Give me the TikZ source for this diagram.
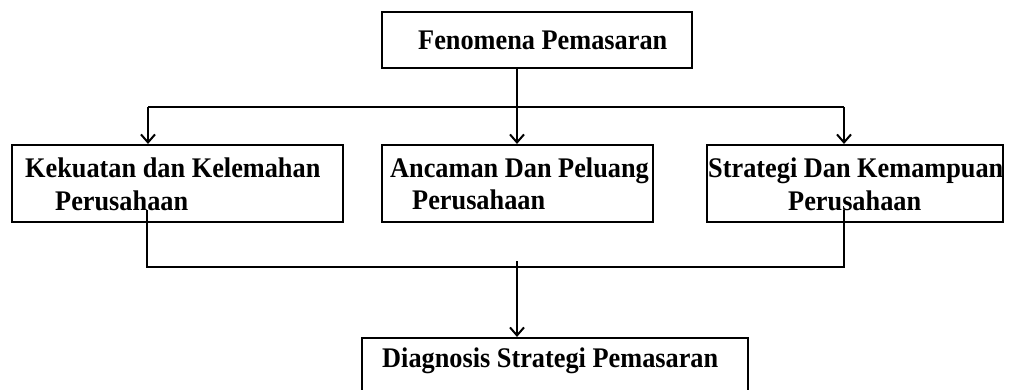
\documentclass[tikz,border=0pt]{standalone}
\usepackage{fontspec}
\usepackage{graphicx}
\setmainfont{Liberation Serif}
\usetikzlibrary{arrows.meta}
% slightly tall lettering
\newcommand{\tallword}[1]{\scalebox{1}[1.08]{#1}}
\begin{document}
\begin{tikzpicture}[x=1pt,y=-1pt,
  box/.style={draw, line width=2.1pt, inner sep=0pt, minimum height=77pt},
  txt/.style={anchor=base west, inner sep=0pt, font=\fontsize{26.3}{31}\selectfont\bfseries},
  link/.style={line width=1.9pt},
  flow/.style={link, -{Straight Barb[length=8pt,width=14pt,line width=2pt]}}]
  \clip (0,0) rectangle (1019,390);

  % boxes
  \node[box, minimum width=310pt, minimum height=56pt] (fen) at (537,40) {};
  \node[box, minimum width=331pt] (kk) at (177.5,183.5) {};
  \node[box, minimum width=271pt] (ac) at (517.5,183.5) {};
  \node[box, minimum width=296pt] (sk) at (855,183.5) {};
  \node[box, minimum width=386pt, minimum height=62pt] (dg) at (555,369) {};

  % labels
  \node[txt] (tfen) at (418,50) {\tallword{Fenomena Pemasaran}};
  \node[txt] (tkk1) at (25,178) {\tallword{Kekuatan dan Kelemahan}};
  \node[txt] (tkk2) at (55,210) {\tallword{Perusahaan}};
  \node[txt] (tac1) at (390,178) {\tallword{Ancaman Dan Peluang}};
  \node[txt] (tac2) at (412,209) {\tallword{Perusahaan}};
  \node[txt] (tsk1) at (708,178) {\tallword{Strategi Dan Kemampuan}};
  \node[txt] (tsk2) at (788,210) {\tallword{Perusahaan}};
  \node[txt] (tdg) at (382,367) {\tallword{Diagnosis Strategi Pemasaran}};

  % branching from the top
  \coordinate (hub) at (517,107);
  \coordinate (dropL) at (148,107);
  \coordinate (dropR) at (844,107);
  \draw[link] (hub |- fen.south) -- (hub);
  \draw[link] (dropL) -- (dropR);
  \draw[flow] (dropL) -- (dropL |- kk.north);
  \draw[flow] (hub) -- (hub |- ac.north);
  \draw[flow] (dropR) -- (dropR |- sk.north);

  % joining towards the bottom
  \coordinate (tailL) at (147,210);
  \coordinate (tailR) at (844,210);
  \coordinate (joinL) at (147,267);
  \coordinate (joinR) at (844,267);
  \coordinate (stem) at (517,261);
  \draw[link] (tailL) -- (joinL) -- (joinR) -- (tailR);
  \draw[flow] (stem) -- (stem |- dg.north);
\end{tikzpicture}
\end{document}
